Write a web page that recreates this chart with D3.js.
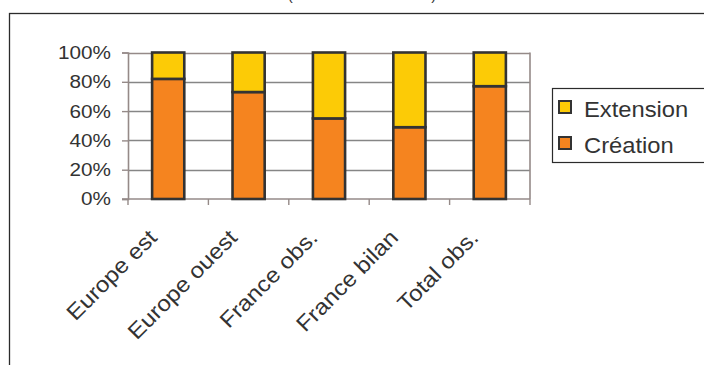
<!DOCTYPE html>
<html>
<head>
<meta charset="utf-8">
<script src="https://cdn.jsdelivr.net/npm/d3@7"></script>
<style>
  html, body { margin: 0; padding: 0; background: #fff; }
  svg { display: block; font-family: "Liberation Sans", Arial, sans-serif; }
</style>
</head>
<body>
<svg id="chart" width="704" height="365"></svg>
<script>
// Share of projects by type, per zone (stacked to 100%)
const categories = ["Europe est", "Europe ouest", "France obs.", "France bilan", "Total obs."];
const creation   = [82, 73, 55, 49, 77];
const extension  = [18, 27, 45, 51, 23];
const seriesNames = ["Création", "Extension"];
const yTicks = [0, 20, 40, 60, 80, 100];

const svg = d3.select("#chart");
const W = 704, H = 365;
const plot = { left: 128, right: 530, top: 52.5, bottom: 199 };
const textCol = "#333";

// Outer chart frame (runs past the right and bottom edges)
svg.append("rect")
  .attr("x", 9.5).attr("y", 13.5)
  .attr("width", W + 20).attr("height", H + 20)
  .attr("fill", "#fff").attr("stroke", "#2b2b2b").attr("stroke-width", 1.3);

// Title line, sitting above the frame
svg.append("text")
  .attr("x", 362).attr("y", -0.5)
  .attr("text-anchor", "middle")
  .attr("font-size", 15).attr("fill", textCol)
  .text("(création et extension)");

const x = d3.scaleBand().domain(categories).range([plot.left, plot.right]).paddingInner(0.6).paddingOuter(0.3);
const xBound = d3.scaleLinear().domain([0, categories.length]).range([plot.left, plot.right]);
const y = d3.scaleLinear().domain([0, 100]).range([plot.bottom, plot.top]);

// Gridlines
svg.append("g").selectAll("line").data(yTicks.filter(t => t > 0 && t < 100)).join("line")
  .attr("x1", plot.left).attr("x2", plot.right)
  .attr("y1", d => Math.round(y(d)) + 0.5).attr("y2", d => Math.round(y(d)) + 0.5)
  .attr("stroke", "#868686").attr("stroke-width", 1.3);

// Plot area top and right border
const borderCol = "#958a88";
svg.append("line").attr("x1", plot.left).attr("x2", plot.right)
  .attr("y1", Math.round(y(100)) + 0.5).attr("y2", Math.round(y(100)) + 0.5)
  .attr("stroke", borderCol).attr("stroke-width", 1.6);
svg.append("line").attr("x1", plot.right).attr("x2", plot.right)
  .attr("y1", plot.top).attr("y2", plot.bottom)
  .attr("stroke", borderCol).attr("stroke-width", 1.6);

// Y axis (labels slightly widened)
const yStretch = 1.12;
const yAxis = d3.axisLeft(y).tickValues(yTicks).tickSize(6).tickPadding(11).tickFormat(d => d + "%");
const gy = svg.append("g").attr("transform", `translate(${plot.left},0)`).call(yAxis);
gy.select(".domain").attr("stroke", borderCol).attr("stroke-width", 1.6);
gy.selectAll(".tick line").attr("stroke", borderCol).attr("stroke-width", 1.4);
gy.selectAll(".tick text")
  .attr("font-size", 18.5).attr("fill", textCol)
  .attr("font-family", "Liberation Sans, Arial, sans-serif")
  .attr("x", -17 / yStretch)
  .attr("transform", `scale(${yStretch},1)`);

// X axis: ticks at category boundaries
const gx = svg.append("g");
gx.append("line").attr("x1", plot.left - 6).attr("x2", plot.right)
  .attr("y1", plot.bottom).attr("y2", plot.bottom)
  .attr("stroke", borderCol).attr("stroke-width", 1.6);
gx.selectAll("line.tk").data(d3.range(categories.length + 1)).join("line")
  .attr("class", "tk")
  .attr("x1", d => xBound(d)).attr("x2", d => xBound(d))
  .attr("y1", plot.bottom).attr("y2", plot.bottom + 6)
  .attr("stroke", borderCol).attr("stroke-width", 1.4);

// Category labels rotated 45°
gx.selectAll("text").data(categories).join("text")
  .attr("transform", d => `translate(${x(d) + x.bandwidth() / 2 - 10},${plot.bottom + 40}) rotate(-45) scale(1.1,1)`)
  .attr("text-anchor", "end")
  .attr("font-size", 22).attr("fill", textCol)
  .text(d => d);

// Stacked bars
const rows = categories.map((c, i) => ({ cat: c, "Création": creation[i], "Extension": extension[i] }));
const stack = d3.stack().keys(seriesNames)(rows);
const colors = { "Création": "#f5841f", "Extension": "#fccb06" };

svg.append("g").selectAll("g").data(stack).join("g")
  .attr("fill", d => colors[d.key])
  .selectAll("rect").data(d => d).join("rect")
  .attr("x", d => x(d.data.cat))
  .attr("width", x.bandwidth())
  .attr("y", d => y(d[1]))
  .attr("height", d => y(d[0]) - y(d[1]))
  .attr("stroke", "#333").attr("stroke-width", 2.6);

// Legend
const lg = svg.append("g");
lg.append("rect").attr("x", 552.5).attr("y", 88.5).attr("width", 200).attr("height", 74)
  .attr("fill", "#fff").attr("stroke", "#2b2b2b").attr("stroke-width", 1.2);
const legendItems = ["Extension", "Création"];
legendItems.forEach((k, i) => {
  const cy = 107 + i * 36;
  lg.append("rect").attr("x", 559).attr("y", cy - 6).attr("width", 12).attr("height", 12)
    .attr("fill", colors[k]).attr("stroke", "#333").attr("stroke-width", 2);
  lg.append("text")
    .attr("transform", `translate(584,${cy + 9.5}) scale(1.08,1)`)
    .attr("font-size", 22).attr("fill", textCol).text(k);
});
</script>
</body>
</html>
